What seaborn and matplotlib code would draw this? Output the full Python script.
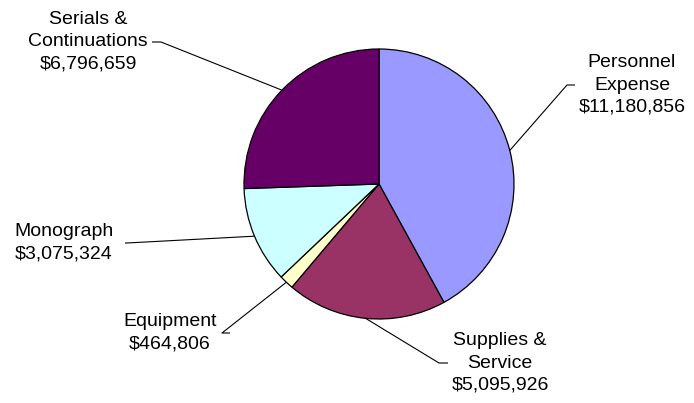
import numpy as np
import matplotlib
matplotlib.use("Agg")
import matplotlib.pyplot as plt
import seaborn as sns

# budget categories, clockwise from 12 o'clock
labels = ["Personnel\nExpense", "Supplies &\nService", "Equipment",
          "Monograph", "Serials &\nContinuations"]
amounts = [11180856, 5095926, 464806, 3075324, 6796659]
colors = ["#9999FF", "#993366", "#FFFFCC", "#CCFFFF", "#660066"]

sns.set_theme(style="white")
plt.rcParams['font.family'] = ['Liberation Sans', 'DejaVu Sans']

W, H = 694, 403
fig = plt.figure(figsize=(W / 100, H / 100), dpi=100)
ax = fig.add_axes([0, 0, 1, 1])

cx, cy, r = 379, H - 184, 135
wedges, _ = ax.pie(amounts, colors=colors, startangle=90, counterclock=False,
                   center=(cx, cy), radius=r, frame=True,
                   wedgeprops=dict(edgecolor='black', linewidth=0.9))
ax.set_xlim(0, W)
ax.set_ylim(0, H)
ax.set_aspect('equal')
ax.axis('off')

# label block centre, elbow of leader, end of short horizontal tick (pixels from top)
layout = [
    ((632, 85), (567, 85), (575, 85)),
    ((500, 363), (439, 363), (448, 363)),
    ((170, 333), (222, 333), (230, 333)),
    ((64, 243), (127, 243), (125, 243)),
    ((88, 42), (161, 42), (152, 42)),
]

for w, lab, amt, (txt, elbow, tick) in zip(wedges, labels, amounts, layout):
    ang = np.deg2rad((w.theta1 + w.theta2) / 2)
    px, py = cx + r * np.cos(ang), cy + r * np.sin(ang)
    ax.plot([px, elbow[0], tick[0]], [py, H - elbow[1], H - tick[1]],
            color='black', lw=0.8, solid_capstyle='butt')
    ax.text(txt[0], H - txt[1], f"{lab}\n${amt:,}", ha='center', va='center',
            fontsize=14, color='black', linespacing=1.4)

fig.savefig("out.png", dpi=100)
